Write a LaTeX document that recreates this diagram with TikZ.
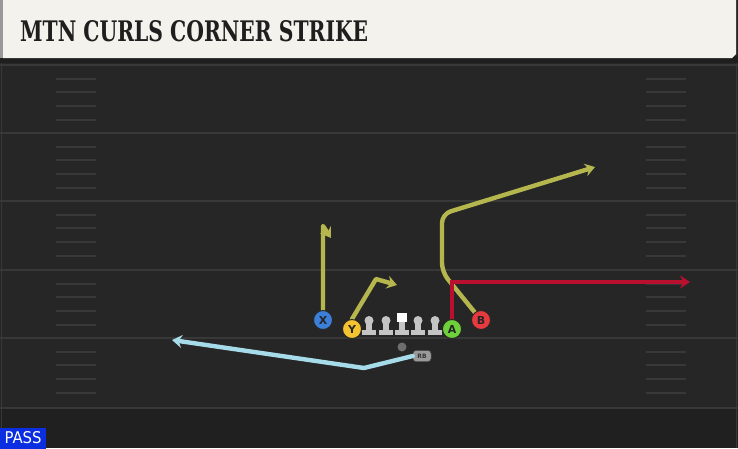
\documentclass[tikz,border=0pt]{standalone}
\usepackage{fontspec}
\setmainfont{DejaVu Sans}
\newfontfamily\titlefont{DejaVu Serif}
\usetikzlibrary{arrows.meta}
\definecolor{field}{HTML}{262626}
\definecolor{fieldlow}{HTML}{202020}
\definecolor{yardc}{HTML}{383838}
\definecolor{hashc}{HTML}{383838}
\definecolor{headbg}{HTML}{F4F2EC}
\definecolor{titletxt}{HTML}{1E1E1E}
\definecolor{passblue}{HTML}{0A2EE0}
\definecolor{olive}{HTML}{B6B64E}
\definecolor{redroute}{HTML}{B8102E}
\definecolor{lblue}{HTML}{A6DCE9}
\definecolor{xblue}{HTML}{3B7FD8}
\definecolor{yyellow}{HTML}{F5C330}
\definecolor{agreen}{HTML}{6FD13A}
\definecolor{bred}{HTML}{E63A3F}
\definecolor{linegray}{HTML}{C4C4C4}
\definecolor{qbgray}{HTML}{6E6E6E}
\definecolor{rbgray}{HTML}{9A9A9A}
\tikzset{
  yard/.style={yardc, line width=2pt},
  hashmark/.style={hashc, line width=2pt},
  route/.style={line width=4.4pt, line join=round, line cap=round,
    -{Stealth[length=10pt,width=13pt,inset=3.5pt]}},
  player/.style={circle, draw=black!85, line width=0.9pt, minimum size=19pt,
    inner sep=0pt, font=\bfseries\fontsize{11}{11}\selectfont, text=black!85},
  lineman/.pic={
    \fill[linegray] (-2.8,0) rectangle (2.8,11);
    \fill[linegray] (-7,9) rectangle (7,13.5);
    \fill[linegray] (0,-0.5) circle (4.5);
  },
  centerman/.pic={
    \fill[linegray] (-2.8,0) rectangle (2.8,11);
    \fill[linegray] (-7,9) rectangle (7,13.5);
    \fill[white] (-5,-8) rectangle (5,1);
  }
}
\begin{document}
\begin{tikzpicture}[x=1pt,y=-1pt]
\useasboundingbox (0,0) rectangle (738,448);
% field
\fill[field] (0,0) rectangle (738,408);
\fill[fieldlow] (0,408) rectangle (738,448);
\foreach \yy in {65,133,201,270,338,408} \draw[yard] (0,\yy) -- (738,\yy);
\foreach \b in {65,133,201,270,338} \foreach \o in {14,27,41,55} {
  \draw[hashmark] (56,{\b+\o}) -- (96,{\b+\o});
  \draw[hashmark] (646,{\b+\o}) -- (686,{\b+\o});
}
\draw[yardc, line width=1pt] (1.5,63) -- (1.5,448);
\draw[yardc, line width=1pt] (736.5,63) -- (736.5,448);
% header
\fill[black!88] (0,56) rectangle (738,63);
\fill[headbg] (3,0) -- (736,0) -- (736,54) -- (732,58) -- (3,58) -- cycle;
\fill[black!40] (0,0) rectangle (3,58);
\node[anchor=south west, inner sep=0pt, text=titletxt] (title) at (20,42.5)
  {\resizebox{348pt}{21pt}{\titlefont\bfseries MTN CURLS CORNER STRIKE}};
% pass tag
\node[fill=passblue, minimum width=46pt, minimum height=21pt, inner sep=0pt, text=white] (pass) at (23,438)
  {\resizebox{37pt}{12pt}{PASS}};
% players
\node[player, fill=xblue] (X) at (323,320) {X};
\node[player, fill=yyellow] (Y) at (352,329) {Y};
\node[player, fill=agreen] (A) at (452,329) {A};
\node[player, fill=bred] (B) at (481,320) {B};
\pic (LT) at (369,321) {lineman};
\pic (LG) at (386,321) {lineman};
\pic (C) at (402,321) {centerman};
\pic (RG) at (418,321) {lineman};
\pic (RT) at (435,321) {lineman};
\node[circle, fill=qbgray, minimum size=9pt, inner sep=0pt] (QB) at (402,347) {};
\node[fill=rbgray, draw=black!70, line width=0.5pt, rounded corners=3pt, minimum width=18pt, minimum height=11pt, inner sep=0pt,
  font=\bfseries\fontsize{6}{6}\selectfont, text=black!80] (RB) at (422,356) {RB};
% route coordinates
\coordinate (xtop) at (323,226);
\coordinate (xend) at (331,238);
\coordinate (ybreak) at (376,279);
\coordinate (yend) at (397,285);
\coordinate (bc1) at (442,272);
\coordinate (bc2) at (442,214);
\coordinate (bend) at (595,167);
\coordinate (acorner) at (452,282);
\coordinate (aend) at (690,282);
\coordinate (rbbend) at (364,368);
\coordinate (rbend) at (172,340);
% routes
\draw[route, olive] (X.north) -- (xtop) -- (xend);
\draw[route, olive] (Y.north) -- (ybreak) -- (yend);
\draw[route, olive, rounded corners=9pt] (B) -- (bc1) -- (bc2) -- (bend);
\draw[route, redroute, line join=miter] (A.north) -- (acorner) -- (aend);
\draw[route, lblue] (RB.west) -- (rbbend) -- (rbend);
% players on top
\node[player, fill=xblue] at (X) {X};
\node[player, fill=yyellow] at (Y) {Y};
\node[player, fill=agreen] at (A) {A};
\node[player, fill=bred] at (B) {B};
\end{tikzpicture}
\end{document}
